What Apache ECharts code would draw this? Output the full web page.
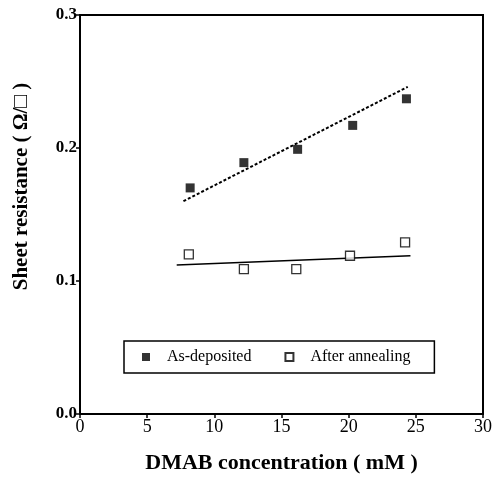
<!DOCTYPE html>
<html>
<head>
<meta charset="utf-8">
<script src="https://cdn.jsdelivr.net/npm/echarts@6/dist/echarts.min.js"></script>
<style>
html,body{margin:0;padding:0;background:#fff;}
#chart{width:495px;height:479px;}
</style>
</head>
<body>
<div id="chart"></div>
<script>
// Data
const asDepositedX = [8.2, 12.2, 16.2, 20.3, 24.3];
const asDepositedY = [0.170, 0.189, 0.199, 0.217, 0.237];
const annealedX = [8.1, 12.2, 16.1, 20.1, 24.2];
const annealedY = [0.120, 0.109, 0.109, 0.119, 0.129];
const asDepositedFitX = [7.7, 24.4];
const asDepositedFitY = [0.160, 0.246];
const annealedFitX = [7.2, 24.6];
const annealedFitY = [0.112, 0.119];
const xTicks = [0, 5, 10, 15, 20, 25, 30];
const yTicks = [0.0, 0.1, 0.2, 0.3];

const pair = (xs, ys) => xs.map((x, i) => [x, ys[i]]);
const serif = '"Liberation Serif", "DejaVu Serif", serif';

const chart = echarts.init(document.getElementById('chart'), null, {renderer: 'canvas'});
chart.setOption({
  animation: false,
  backgroundColor: '#fff',
  grid: {
    left: 80, right: 10, top: 15, bottom: 65,
    show: true, borderColor: '#000', borderWidth: 2
  },
  xAxis: {
    type: 'value',
    min: xTicks[0], max: xTicks[xTicks.length - 1], interval: 5,
    name: 'DMAB concentration ( mM )',
    nameLocation: 'middle', nameGap: 38,
    nameTextStyle: {fontFamily: serif, fontWeight: 'bold', fontSize: 22, color: '#000'},
    axisLine: {lineStyle: {color: '#000', width: 2}},
    axisTick: {inside: false, length: 4, lineStyle: {color: '#000', width: 1.5}},
    axisLabel: {fontFamily: serif, fontSize: 18, color: '#000', margin: 4},
    splitLine: {show: false}
  },
  yAxis: {
    type: 'value',
    min: yTicks[0], max: yTicks[yTicks.length - 1], interval: 0.1,
    name: 'Sheet resistance ( \u03A9/\u25A1 )',
    nameLocation: 'middle', nameGap: 48,
    nameTextStyle: {fontFamily: serif, fontWeight: 'bold', fontSize: 21, color: '#000',
      padding: [0, 0, 0, 56]},
    axisLine: {lineStyle: {color: '#000', width: 2}},
    axisTick: {inside: false, length: 4, lineStyle: {color: '#000', width: 1.5}},
    axisLabel: {fontFamily: serif, fontSize: 17, fontWeight: 'bold', color: '#000', margin: 3,
      formatter: v => v.toFixed(1)},
    splitLine: {show: false}
  },
  legend: {
    data: ['As-deposited', 'After annealing'],
    left: 124, top: 341,
    orient: 'horizontal',
    borderColor: '#000', borderWidth: 1.5,
    padding: [8, 24, 8, 18],
    itemGap: 33,
    itemWidth: 8, itemHeight: 8,
    textStyle: {fontFamily: serif, fontSize: 16, color: '#000', padding: [0, 0, 0, 12]}
  },
  series: [
    {
      name: 'As-deposited', type: 'scatter', symbol: 'rect', symbolSize: 9,
      itemStyle: {color: '#000'},
      data: pair(asDepositedX, asDepositedY), z: 5
    },
    {
      name: 'After annealing', type: 'scatter', symbol: 'rect', symbolSize: 9,
      itemStyle: {color: '#fff', borderColor: '#000', borderWidth: 1.3},
      data: pair(annealedX, annealedY), z: 5
    },
    {
      name: 'fit1', type: 'line', showSymbol: false, symbol: 'none',
      lineStyle: {color: '#000', width: 2, type: [3, 2]},
      data: pair(asDepositedFitX, asDepositedFitY), z: 3
    },
    {
      name: 'fit2', type: 'line', showSymbol: false, symbol: 'none',
      lineStyle: {color: '#000', width: 1.6},
      data: pair(annealedFitX, annealedFitY), z: 3
    }
  ]
});
</script>
</body>
</html>
